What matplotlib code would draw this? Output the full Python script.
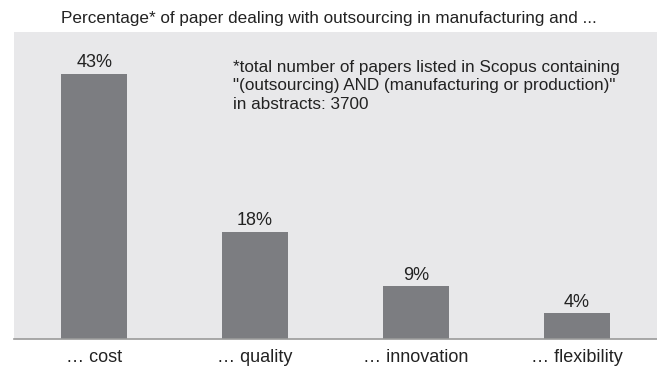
import numpy as np
import matplotlib.pyplot as plt

plt.rcParams['font.family'] = ['Liberation Sans', 'DejaVu Sans']

categories = ['… cost', '… quality', '… innovation', '… flexibility']
values = [43, 17.4, 8.6, 4.2]
labels = ['43%', '18%', '9%', '4%']

fig = plt.figure(figsize=(6.57, 3.67), dpi=100)
ax = fig.add_axes([14/657, 1 - 339/367, 643/657, 307/367])
ax.set_facecolor('#e8e8ea')

x = np.arange(len(categories))
ax.bar(x, values, width=0.41, color='#7c7d81', zorder=2)
for xi, v, lab in zip(x, values, labels):
    ax.text(xi, v + 0.4, lab, ha='center', va='bottom', fontsize=13, color='#222222')

ax.set_xlim(-0.5, 3.5)
ax.set_ylim(0, 49.8)
ax.set_xticks(x)
ax.set_xticklabels(categories, fontsize=13, color='#222222')
ax.tick_params(axis='x', length=0, pad=7)
ax.set_yticks([])
for s in ['top', 'right', 'left']:
    ax.spines[s].set_visible(False)
ax.spines['bottom'].set_color('#9a9a9a')
ax.spines['bottom'].set_linewidth(1.2)

ax.text(0.86, 45.3, '*total number of papers listed in Scopus containing\n'
        '"(outsourcing) AND (manufacturing or production)"\n'
        'in abstracts: 3700',
        ha='left', va='top', fontsize=12.3, color='#222222', linespacing=1.3)

fig.text(0.5, 1 - 19/367, 'Percentage* of paper dealing with outsourcing in manufacturing and ...',
         ha='center', va='center', fontsize=12.3, color='#222222')

fig.savefig('out.png', dpi=100)
